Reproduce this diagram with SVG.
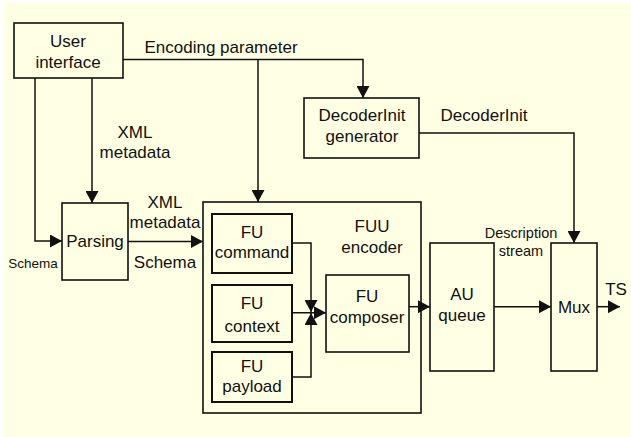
<svg xmlns="http://www.w3.org/2000/svg" width="631" height="437" viewBox="0 0 631 437">
<defs>
<style>
.box{fill:none;stroke:#111;stroke-width:1.6}
.fu{fill:none;stroke:#111;stroke-width:2}
.ln{fill:none;stroke:#111;stroke-width:1.5}
text{font-family:"Liberation Sans",Arial,sans-serif;font-size:17px;fill:#111;text-anchor:middle}
.sm{font-size:13.5px}
.md{font-size:14.5px}
</style>
<marker id="ah" markerUnits="userSpaceOnUse" markerWidth="13" markerHeight="13" refX="12" refY="6.5" orient="auto">
<path d="M0,0 L12,6.5 L0,13 z" fill="#111"/>
</marker>
</defs>
<rect x="3" y="3" width="628" height="434" fill="#FFFFE3"/>
<g id="connectors">
<path class="ln" d="M123,59.5 H363 V98" marker-end="url(#ah)"/>
<path class="ln" d="M258,59.5 V202" marker-end="url(#ah)"/>
<path class="ln" d="M92,78 V203" marker-end="url(#ah)"/>
<path class="ln" d="M35,78 V241 H62" marker-end="url(#ah)"/>
<path class="ln" d="M128,241.5 H203" marker-end="url(#ah)"/>
<path class="ln" d="M419,133 H574 V243" marker-end="url(#ah)"/>
<path class="ln" d="M292,243 H311 V312" marker-end="url(#ah)"/>
<path class="ln" d="M292,377 H311 V313" marker-end="url(#ah)"/>
<path class="ln" d="M292,312.7 H326" marker-end="url(#ah)"/>
<path class="ln" d="M409,306.7 H430" marker-end="url(#ah)"/>
<path class="ln" d="M494,306.7 H551" marker-end="url(#ah)"/>
<path class="ln" d="M597,306.7 H620" marker-end="url(#ah)"/>
<text x="221" y="53">Encoding parameter</text>
<text x="135" y="138">XML</text>
<text x="135" y="158">metadata</text>
<text x="165" y="208">XML</text>
<text x="165" y="228">metadata</text>
<text x="165" y="268">Schema</text>
<text class="sm" x="33" y="268">Schema</text>
<text x="484" y="121">DecoderInit</text>
<text class="md" x="521" y="238">Description</text>
<text class="md" x="521" y="256">stream</text>
<text x="616" y="295">TS</text>
</g>
<g id="user-interface">
<rect class="box" x="14" y="23" width="109" height="55"/>
<text x="68" y="47">User</text>
<text x="68" y="68">interface</text>
</g>
<g id="decoderinit-generator">
<rect class="box" x="304" y="98" width="115" height="60"/>
<text x="362" y="121">DecoderInit</text>
<text x="362" y="142">generator</text>
</g>
<g id="parsing">
<rect class="box" x="62" y="203" width="66" height="77"/>
<text x="95" y="247">Parsing</text>
</g>
<g id="fuu-encoder">
<rect class="box" x="203" y="202" width="218" height="211"/>
<text x="372" y="232">FUU</text>
<text x="372" y="253">encoder</text>
</g>
<g id="fu-command">
<rect class="fu" x="212" y="214" width="80" height="59"/>
<text x="252" y="238">FU</text>
<text x="252" y="258">command</text>
</g>
<g id="fu-context">
<rect class="fu" x="212" y="285" width="80" height="57"/>
<text x="252" y="309">FU</text>
<text x="252" y="332">context</text>
</g>
<g id="fu-payload">
<rect class="fu" x="212" y="352" width="80" height="50"/>
<text x="252" y="372">FU</text>
<text x="252" y="392">payload</text>
</g>
<g id="fu-composer">
<rect class="box" x="326" y="275" width="83" height="77"/>
<text x="367" y="302">FU</text>
<text x="367" y="323">composer</text>
</g>
<g id="au-queue">
<rect class="box" x="430" y="243" width="64" height="128"/>
<text x="462" y="300">AU</text>
<text x="462" y="321">queue</text>
</g>
<g id="mux">
<rect class="box" x="551" y="243" width="46" height="128"/>
<text x="574" y="313">Mux</text>
</g>
</svg>
